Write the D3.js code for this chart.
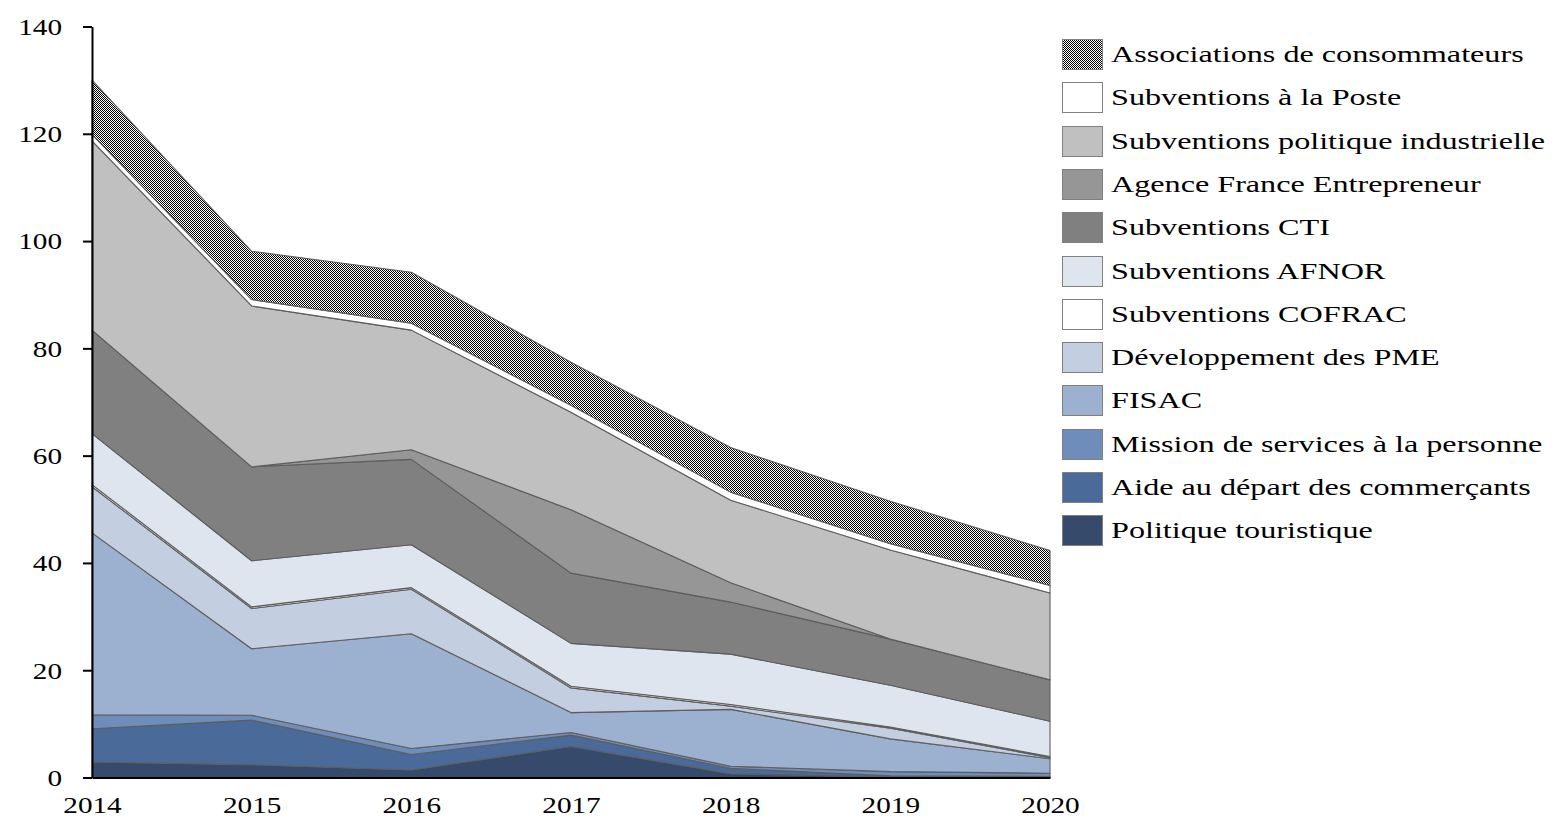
<!DOCTYPE html>
<html><head><meta charset="utf-8">
<script src="https://cdn.jsdelivr.net/npm/d3@7"></script>
<style>
body{margin:0;background:#fff}
svg text{font-family:"Liberation Serif","Times New Roman",serif;fill:#000}
</style>
</head><body>
<svg id="chart" width="1564" height="840"></svg>
<script>
// ---- data ----
const years = [2014, 2015, 2016, 2017, 2018, 2019, 2020];
const politiqueTouristique   = [2.9, 2.4, 1.4, 5.8, 0.7, 0.1, 0.1];
const aideDepartCommercants  = [6.2, 8.3, 2.9, 2.1, 1.0, 0.2, 0.1];
const missionServicesPersonne= [2.6, 0.9, 1.1, 0.5, 0.4, 0.8, 0.6];
const fisac                  = [33.9, 12.4, 21.4, 3.7, 10.6, 6.1, 2.7];
const developpementPME       = [8.6, 7.5, 8.3, 4.6, 0.6, 2.0, 0.2];
const subventionsCOFRAC      = [0.4, 0.3, 0.3, 0.3, 0.3, 0.2, 0.2];
const subventionsAFNOR       = [9.5, 8.6, 8.0, 8.0, 9.4, 7.8, 6.6];
const subventionsCTI         = [19.3, 17.5, 15.9, 13.1, 9.7, 8.6, 7.7];
const agenceFranceEntrepreneur = [0, 0, 1.8, 11.8, 3.6, 0, 0];
const politiqueIndustrielle  = [35.3, 30.0, 22.3, 18.2, 15.4, 16.6, 16.2];
const subventionsPoste       = [1.2, 1.2, 1.3, 1.3, 1.5, 1.2, 1.4];
const associationsConso      = [10.1, 9.0, 9.5, 8.0, 8.3, 7.9, 6.5];
const yTickValues = [0, 20, 40, 60, 80, 100, 120, 140];

// series, bottom to top
const seriesNames = [
  "Politique touristique",
  "Aide au départ des commerçants",
  "Mission de services à la personne",
  "FISAC",
  "Développement des PME",
  "Subventions COFRAC",
  "Subventions AFNOR",
  "Subventions CTI",
  "Agence France Entrepreneur",
  "Subventions politique industrielle",
  "Subventions à la Poste",
  "Associations de consommateurs"
];
const seriesValues = [
  politiqueTouristique, aideDepartCommercants, missionServicesPersonne, fisac,
  developpementPME, subventionsCOFRAC, subventionsAFNOR, subventionsCTI,
  agenceFranceEntrepreneur, politiqueIndustrielle, subventionsPoste, associationsConso
];

// ---- styles ----
const fills = [
  "#364a6c", "#4a6a9a", "#6e8dbb", "#9cb0cf", "#c3cee1", "#ffffff",
  "#dfe5ef", "#808080", "#969696", "#c0c0c0", "#ffffff", "url(#checker)"
];

const table = years.map((y, i) => {
  const row = {year: y};
  seriesNames.forEach((n, k) => row[n] = seriesValues[k][i]);
  return row;
});

const svg = d3.select("#chart");
const defs = svg.append("defs");
const pat = defs.append("pattern").attr("id", "checker")
  .attr("patternUnits", "userSpaceOnUse").attr("width", 2).attr("height", 2);
pat.append("rect").attr("width", 2).attr("height", 2).attr("fill", "#ffffff");
pat.append("rect").attr("x", 0).attr("y", 0).attr("width", 1).attr("height", 1).attr("fill", "#000");
pat.append("rect").attr("x", 1).attr("y", 1).attr("width", 1).attr("height", 1).attr("fill", "#000");

const x = d3.scaleLinear().domain([2014, 2020]).range([92, 1050]);
const y = d3.scaleLinear().domain([0, 140]).range([777.5, 26.5]);

const stack = d3.stack().keys(seriesNames);
const layers = stack(table);

const area = d3.area()
  .x(d => x(d.data.year))
  .y0(d => y(d[0]))
  .y1(d => y(d[1]));

svg.append("g").selectAll("path").data(layers).join("path")
  .attr("d", area)
  .attr("fill", (d, i) => fills[i])
  .attr("stroke", "#5e5e5e")
  .attr("stroke-width", 1.1)
  .attr("stroke-linejoin", "round");

// ---- axes ----
const yAxis = d3.axisLeft(y).tickValues(yTickValues).tickSize(9).tickSizeOuter(0)
  .tickFormat(d3.format("d"));
const gy = svg.append("g").attr("transform", "translate(92,0)").call(yAxis);
gy.select(".domain").attr("stroke", "#000").attr("stroke-width", 2);
gy.selectAll(".tick line").attr("stroke", "#000").attr("stroke-width", 2);
gy.selectAll(".tick text")
  .attr("x", 0).attr("dy", "0.35em")
  .attr("transform", "translate(-30,0) scale(1.3,1)")
  .style("font-size", "22.5px")
  .attr("text-anchor", "end");

const xAxis = d3.axisBottom(x).tickValues(years).tickSize(0).tickSizeOuter(0)
  .tickFormat(d3.format("d"));
const gx = svg.append("g").attr("transform", "translate(0,777.5)").call(xAxis);
gx.select(".domain").attr("stroke", "#000").attr("stroke-width", 2);
gx.selectAll(".tick text")
  .attr("y", 0).attr("dy", 0)
  .attr("transform", "translate(0,35) scale(1.3,1)")
  .style("font-size", "22.5px")
  .attr("text-anchor", "middle");

// ---- legend (top series first) ----
const legendOrder = d3.range(seriesNames.length).reverse();
const lg = svg.append("g");
const items = lg.selectAll("g").data(legendOrder).join("g")
  .attr("transform", (d, i) => `translate(1062,${Math.round(54 + i * 43.3)})`);
items.append("rect")
  .attr("x", 0.5).attr("y", -14.5).attr("width", 40).attr("height", 30)
  .attr("fill", d => fills[d])
  .attr("stroke", "#808080").attr("stroke-width", 1);
items.append("text")
  .attr("x", 0).attr("dy", "0.35em")
  .attr("transform", "translate(49,0) scale(1.43,1)")
  .style("font-size", "22.5px")
  .text(d => seriesNames[d]);
</script>
</body></html>
